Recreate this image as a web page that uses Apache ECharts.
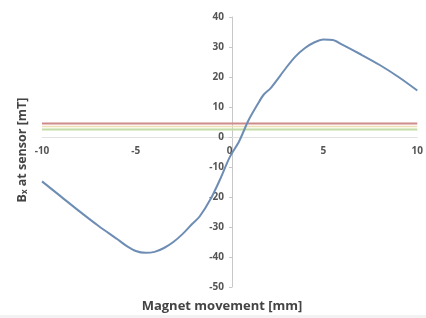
<!DOCTYPE html>
<html>
<head>
<meta charset="utf-8">
<script src="https://cdn.jsdelivr.net/npm/echarts@6/dist/echarts.min.js"></script>
<style>html,body{margin:0;padding:0;background:#fff}#c{width:426px;height:318px}</style>
</head>
<body>
<div id="c"></div>
<script>
const xValues = [-10, -9, -8, -7, -6, -5.5, -5, -4.5, -4, -3.5, -3, -2.5, -2, -1.6, -1, -0.5, 0, 0.5, 1, 1.5, 1.8, 2.2, 3, 3.5, 4, 4.5, 5, 5.5, 6, 7, 8, 9, 10];
const bValues = [-14.8, -19.8, -24.8, -29.6, -34.0, -36.3, -38.0, -38.6, -38.3, -37.0, -35.0, -32.3, -29.0, -26.5, -20.5, -14.0, -6.8, -1.5, 5.5, 11.0, 14.0, 16.4, 23.0, 26.8, 29.6, 31.5, 32.5, 32.3, 30.8, 27.5, 24.0, 20.0, 15.5];
const thresholdX = [-10, 10];
const redLevel = [4.5, 4.5];
const yellowLevel = [3.5, 3.5];
const greenLevel = [2.5, 2.5];
const xTicks = [-10, -5, 0, 5, 10];
const yTicks = [-50, -40, -30, -20, -10, 0, 10, 20, 30, 40];

const zip = (xs, ys) => xs.map((x, i) => [x, ys[i]]);
const W = 426, H = 318;
const G = {left: 42, right: 4, top: 17, bottom: 31};
const xMin = xTicks[0], xMax = xTicks[xTicks.length - 1];
const yMin = yTicks[0], yMax = yTicks[yTicks.length - 1];
const plotW = W - G.left - G.right, plotH = H - G.top - G.bottom;
const yAxisOffset = -plotW * (0 - xMin) / (xMax - xMin);
const xAxisOffset = -plotH * (0 - yMin) / (yMax - yMin);

const chart = echarts.init(document.getElementById('c'), null, {renderer: 'canvas'});
const lbl = {fontFamily: 'Open Sans', fontWeight: 'bold', fontSize: 10, color: '#555'};
chart.setOption({
  animation: false,
  backgroundColor: '#fff',
  grid: Object.assign({containLabel: false}, G),
  xAxis: {
    type: 'value', min: xMin, max: xMax, interval: 5, position: 'bottom', offset: xAxisOffset,
    axisLine: {onZero: false, lineStyle: {color: '#e2e2e2'}},
    axisTick: {show: false},
    splitLine: {show: false},
    axisLabel: Object.assign({margin: 9}, lbl)
  },
  yAxis: {
    type: 'value', min: yMin, max: yMax, interval: 10, position: 'left', offset: yAxisOffset,
    axisLine: {show: true, onZero: false, lineStyle: {color: '#c8c8c8'}},
    axisTick: {show: true, length: 3, lineStyle: {color: '#c8c8c8'}},
    splitLine: {show: false},
    axisLabel: Object.assign({margin: 8}, lbl)
  },
  series: [
    {type: 'line', data: zip(thresholdX, redLevel), showSymbol: false, lineStyle: {color: '#cf8a8a', width: 2}},
    {type: 'line', data: zip(thresholdX, yellowLevel), showSymbol: false, lineStyle: {color: '#eedfb4', width: 1.5}},
    {type: 'line', data: zip(thresholdX, greenLevel), showSymbol: false, lineStyle: {color: '#c3dba4', width: 2}},
    {type: 'line', data: zip(xValues, bValues), showSymbol: false, smooth: 0.3, lineStyle: {color: '#6e8db4', width: 2}}
  ],
  graphic: [
    {type: 'text', x: 222, y: 306, style: {text: 'Magnet movement [mm]', font: 'bold 13px "Open Sans"', fill: '#444', align: 'center', verticalAlign: 'middle'}},
    {type: 'rect', shape: {x: 0, y: 315, width: W, height: 3}, style: {fill: '#f2f2f2'}},
    {type: 'text', x: 22, y: 150, rotation: Math.PI / 2, style: {
      rich: {b: {font: 'bold 12.5px "Open Sans"', fill: '#444'}, s: {font: 'bold 8px "Open Sans"', fill: '#444', padding: [6, 0, 0, 0]}},
      text: '{b|B}{s|x}{b| at sensor [mT]}', align: 'center', verticalAlign: 'middle'}}
  ]
});
</script>
</body>
</html>
